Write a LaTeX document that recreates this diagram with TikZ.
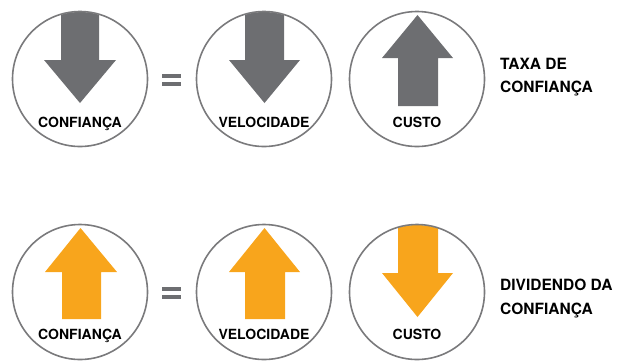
\documentclass[tikz,border=0pt]{standalone}
\usepackage{fontspec}
\setmainfont{TeX Gyre Heros}
\definecolor{arrgray}{HTML}{6D6E71}
\definecolor{arrorange}{HTML}{F8A51C}
\definecolor{ringgray}{HTML}{7A7A7C}
\begin{document}
\begin{tikzpicture}[x=1pt,y=-1pt,
  ring/.style={circle,draw=ringgray,line width=1.6pt,minimum size=135pt,inner sep=0pt},
  inlabel/.style={font=\fontsize{14}{16}\selectfont\bfseries,inner sep=0pt,anchor=base},
  sidelabel/.style={font=\fontsize{15.5}{18}\selectfont\bfseries,inner sep=0pt,anchor=base west},
  eqbar/.style={fill=arrgray}]
\useasboundingbox (0,0) rectangle (631,360);
% ---------- top row ----------
\begin{scope}
  \clip (80,79) circle (67);
  \fill[arrgray] (61,0) -- (99,0) -- (99,60) -- (116,60) -- (80,103) -- (44,60) -- (61,60) -- cycle;
\end{scope}
\begin{scope}
  \clip (264,79) circle (67);
  \fill[arrgray] (245,0) -- (284,0) -- (284,60) -- (300,60) -- (264.5,103) -- (229,60) -- (245,60) -- cycle;
\end{scope}
\fill[arrgray] (417.5,15) -- (453,58) -- (438,58) -- (438,106) -- (398,106) -- (398,58) -- (382,58) -- cycle;
\node[ring] (c1) at (80,79) {};
\node[ring] (c2) at (264,79) {};
\node[ring] (c3) at (417,79) {};
\node[inlabel] (t1) at (80,127.5) {CONFIANÇA};
\node[inlabel] (t2) at (264,127.5) {VELOCIDADE};
\node[inlabel] (t3) at (417,127.5) {CUSTO};
\fill[eqbar] (162,74) rectangle (181,78);
\fill[eqbar] (162,82) rectangle (181,86);
\node[sidelabel] (s1) at (500,69.5) {TAXA DE};
\node[sidelabel] (s2) at (500,92.5) {CONFIANÇA};
% ---------- bottom row ----------
\fill[arrorange] (80.5,228) -- (117,272) -- (101,272) -- (101,319) -- (62,319) -- (62,272) -- (45,272) -- cycle;
\fill[arrorange] (264.5,228) -- (300,272) -- (285,272) -- (285,319) -- (245,319) -- (245,272) -- (229,272) -- cycle;
\begin{scope}
  \clip (417,292) circle (67);
  \fill[arrorange] (398,200) -- (438,200) -- (438,273) -- (453,273) -- (417.5,317) -- (382,273) -- (398,273) -- cycle;
\end{scope}
\node[ring] (d1) at (80,292) {};
\node[ring] (d2) at (264,292) {};
\node[ring] (d3) at (417,292) {};
\node[inlabel] (u1) at (80,339.5) {CONFIANÇA};
\node[inlabel] (u2) at (264,339.5) {VELOCIDADE};
\node[inlabel] (u3) at (417,339.5) {CUSTO};
\fill[eqbar] (162,287) rectangle (181,291);
\fill[eqbar] (162,295) rectangle (181,299);
\node[sidelabel] (s3) at (500,290) {DIVIDENDO DA};
\node[sidelabel] (s4) at (500,314) {CONFIANÇA};
\end{tikzpicture}
\end{document}
